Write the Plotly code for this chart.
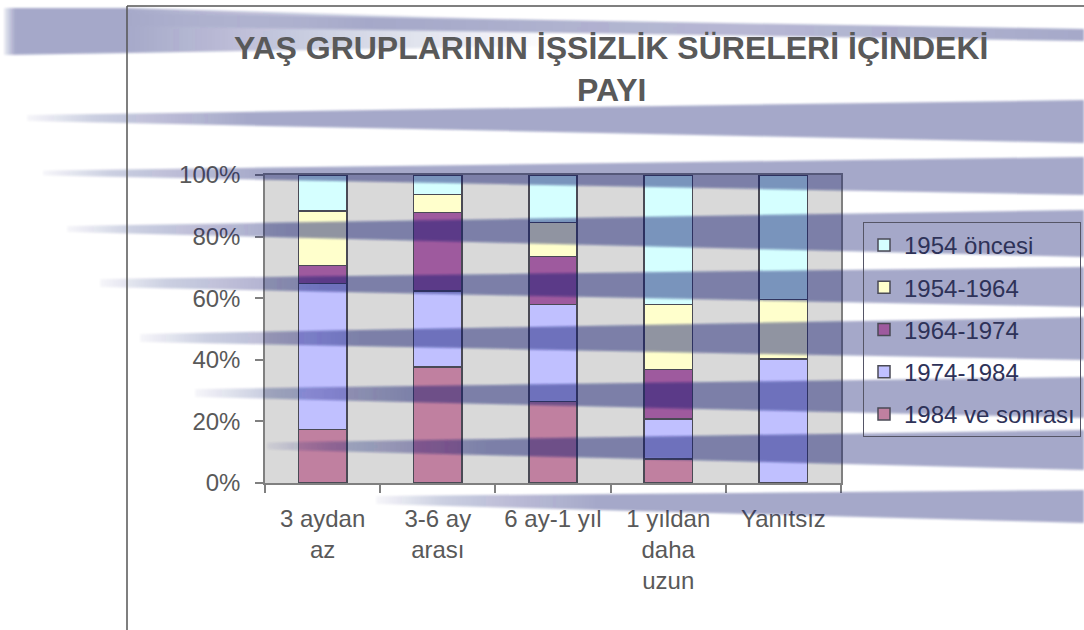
import base64
import plotly.graph_objects as go

# ---- data -------------------------------------------------------------
categories = ["3 aydan<br>az", "3-6 ay<br>arası", "6 ay-1 yıl",
              "1 yıldan<br>daha<br>uzun", "Yanıtsız"]

s_1984_sonrasi = [17.4, 37.6, 26.4, 7.8, 0]
s_1974_1984 = [47.4, 24.7, 31.6, 12.9, 40.2]
s_1964_1974 = [5.8, 25.5, 15.5, 16.2, 0]
s_1954_1964 = [17.7, 5.9, 11.0, 21.1, 19.4]
s_1954_oncesi = [11.7, 6.3, 15.5, 42.0, 40.4]

series = [
    ("1984 ve sonrası", s_1984_sonrasi, "#C080A0"),
    ("1974-1984", s_1974_1984, "#C0C0FF"),
    ("1964-1974", s_1964_1974, "#9E5A9E"),
    ("1954-1964", s_1954_1964, "#FFFFCC"),
    ("1954 öncesi", s_1954_oncesi, "#D5FFFF"),
]

title_line1 = "YAŞ GRUPLARININ İŞSİZLİK SÜRELERİ İÇİNDEKİ"
title_line2 = "PAYI"

# ---- page geometry -----------------------------------------------------
W, H = 1084, 630
ML, MR, MT, MB = 265, 243, 175, 147
PW, PH = W - ML - MR, H - MT - MB


def px_x(x):
    return (x - ML) / PW


def px_y(y):
    return 1 - (y - MT) / PH


FONT = "Liberation Sans, Arial, sans-serif"
GREY_TEXT = "#595959"

fig = go.Figure()
n = len(series)
for i, (name, vals, color) in enumerate(series):
    fig.add_trace(go.Bar(
        name=name, x=categories, y=vals,
        marker=dict(color=color, line=dict(color="#4A4A55", width=1.5)),
        legendgroup=f"g{i}", legendrank=n - i,
    ))

# ---- decorative slide streaks (semi-transparent bands) ------------------
streaks = [
    # tip_x, tip_y, tip_half_height, right_top, right_bottom
    (27, 118, 3, 100, 143),
    (43, 173, 2.5, 157, 195),
    (67, 229, 3, 210, 257),
    (100, 283, 4, 267, 307),
    (140, 338, 4, 317, 360),
    (195, 393, 4, 377, 418),
    (267, 446, 3.5, 430, 470),
    (376, 500, 4, 490, 523),
]

defs = []
shapes_svg = []
for i, (tx, ty, th, rt, rb) in enumerate(streaks):
    defs.append(
        f'<linearGradient id="g{i}" gradientUnits="userSpaceOnUse" x1="{tx}" y1="0" x2="{tx + 220}" y2="0">'
        f'<stop offset="0" stop-color="#0A146E" stop-opacity="0.1"/>'
        f'<stop offset="0.3" stop-color="#0A146E" stop-opacity="0.55"/>'
        f'<stop offset="1" stop-color="#0A146E" stop-opacity="1"/></linearGradient>'
    )
    shapes_svg.append(
        f'<polygon points="{tx},{ty - th} {W},{rt} {W},{rb} {tx},{ty + th}" fill="url(#g{i})"/>'
    )

# heavy block at the top left, fading out to the right
defs.append(
    '<linearGradient id="t1" gradientUnits="userSpaceOnUse" x1="4" y1="0" x2="560" y2="0">'
    '<stop offset="0" stop-color="#0A146E" stop-opacity="0.2"/>'
    '<stop offset="0.02" stop-color="#0A146E" stop-opacity="1"/>'
    '<stop offset="0.22" stop-color="#0A146E" stop-opacity="1"/>'
    '<stop offset="0.6" stop-color="#0A146E" stop-opacity="0.5"/>'
    '<stop offset="1" stop-color="#0A146E" stop-opacity="0"/></linearGradient>'
)
shapes_svg.append('<polygon points="4,8 127,8 560,20 560,46 127,53 4,55" fill="url(#t1)"/>')
# thin top streak running to the right edge
defs.append(
    '<linearGradient id="t2" gradientUnits="userSpaceOnUse" x1="127" y1="0" x2="1084" y2="0">'
    '<stop offset="0" stop-color="#0A146E" stop-opacity="0.3"/>'
    '<stop offset="0.25" stop-color="#0A146E" stop-opacity="1"/>'
    '<stop offset="0.65" stop-color="#0A146E" stop-opacity="0.8"/>'
    '<stop offset="1" stop-color="#0A146E" stop-opacity="1"/></linearGradient>'
)
shapes_svg.append('<polygon points="127,13 1084,29 1084,41 127,26" fill="url(#t2)"/>')

body = "".join(shapes_svg)
svg = (
    f'<svg xmlns="http://www.w3.org/2000/svg" width="{W}" height="{H}" '
    f'viewBox="0 0 {W} {H}" preserveAspectRatio="none">'
    f'<defs>{"".join(defs)}'
    f'<clipPath id="pa"><rect x="{ML}" y="{MT}" width="{PW}" height="{PH}"/></clipPath>'
    f'<filter id="soft"><feGaussianBlur stdDeviation="0.8"/></filter></defs>'
    f'<g opacity="0.37" filter="url(#soft)">{body}</g>'
    f'<g opacity="0.13" clip-path="url(#pa)" filter="url(#soft)">{body}</g>'
    f'</svg>'
)
svg_uri = "data:image/svg+xml;base64," + base64.b64encode(svg.encode("utf-8")).decode("ascii")

fig.update_layout(
    width=W, height=H,
    margin=dict(l=ML, r=MR, t=MT, b=MB, pad=0, autoexpand=False),
    paper_bgcolor="white",
    plot_bgcolor="#D9D9D9",
    barmode="stack",
    barnorm="percent",
    bargap=0.58,
    font=dict(family=FONT, size=24, color=GREY_TEXT),
    showlegend=True,
    legend=dict(
        x=px_x(863), y=px_y(222), xanchor="left", yanchor="top",
        traceorder="grouped", tracegroupgap=8,
        bgcolor="rgba(255,255,255,0)", bordercolor="#555566", borderwidth=1,
        font=dict(family=FONT, size=24, color="#2E3258"),
    ),
    images=[dict(
        source=svg_uri, xref="paper", yref="paper",
        x=px_x(0), y=px_y(0), sizex=W / PW, sizey=H / PH,
        xanchor="left", yanchor="top", sizing="stretch", layer="above",
    )],
    shapes=[
        dict(type="line", xref="paper", yref="paper",
             x0=px_x(127), x1=px_x(127), y0=px_y(6), y1=px_y(H),
             line=dict(color="#555555", width=1.5)),
        dict(type="line", xref="paper", yref="paper",
             x0=px_x(127), x1=px_x(W), y0=px_y(6), y1=px_y(6),
             line=dict(color="#555555", width=1.5)),
    ],
    annotations=[
        dict(text=f"<b>{title_line1}</b>", xref="paper", yref="paper",
             x=px_x(611), y=px_y(48), xanchor="center", yanchor="middle",
             showarrow=False, font=dict(family=FONT, size=32, color=GREY_TEXT)),
        dict(text=f"<b>{title_line2}</b>", xref="paper", yref="paper",
             x=px_x(611), y=px_y(90), xanchor="center", yanchor="middle",
             showarrow=False, font=dict(family=FONT, size=32, color=GREY_TEXT)),
    ],
)

fig.update_yaxes(
    range=[0, 100], dtick=20, ticksuffix="%",
    showgrid=False, zeroline=False,
    showline=True, linecolor="#808080", linewidth=1.5, mirror=True,
    ticks="outside", ticklen=8, tickcolor="#808080", tickwidth=1.5,
    ticklabelstandoff=10,
    tickfont=dict(family=FONT, size=24, color=GREY_TEXT),
)
fig.update_xaxes(
    tickson="boundaries",
    showgrid=False,
    showline=True, linecolor="#808080", linewidth=1.5, mirror=True,
    ticks="outside", ticklen=8, tickcolor="#808080", tickwidth=1.5,
    ticklabelstandoff=13,
    tickfont=dict(family=FONT, size=24, color=GREY_TEXT),
)

fig.write_html("out.html")
